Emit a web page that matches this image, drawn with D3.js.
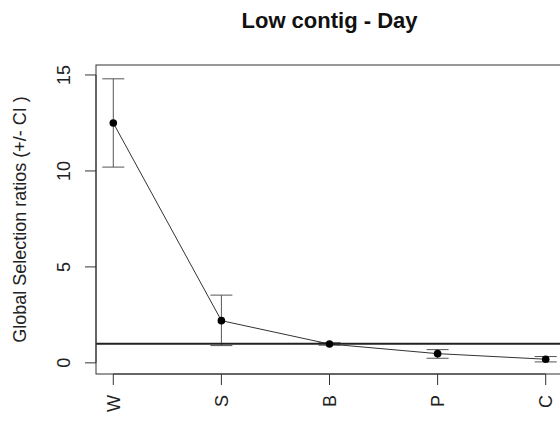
<!DOCTYPE html>
<html>
<head>
<meta charset="utf-8">
<script src="https://cdn.jsdelivr.net/npm/d3@7"></script>
<style>
  html, body { margin: 0; padding: 0; background: #fff; }
  svg { display: block; font-family: "Liberation Sans", Arial, sans-serif; }
</style>
</head>
<body>
<div id="chart"></div>
<script>
// habitat classes along the x axis
var categories = ['W', 'S', 'B', 'P', 'C'];
// global selection ratios and their confidence limits
var ratios = [12.5, 2.2, 0.98, 0.48, 0.19];
var ciLower = [10.2, 0.9, 0.92, 0.24, 0.05];
var ciUpper = [14.8, 3.53, 1.05, 0.69, 0.33];
var yTicks = [0, 5, 10, 15];
var refLine = 1;

var width = 560, height = 421;
var margin = { top: 65, right: -3, bottom: 47, left: 96 };
var iw = width - margin.left - margin.right;
var ih = height - margin.top - margin.bottom;

var svg = d3.select('#chart').append('svg').attr('width', width).attr('height', height);

// R-style 4% padding around the data ranges
var x = d3.scaleLinear().domain([0.84, 5.16]).range([margin.left, margin.left + iw]);
var y = d3.scaleLinear().domain([-0.58, 15.52]).range([margin.top + ih, margin.top]);

var pts = categories.map(function (c, i) {
  return { cat: c, i: i + 1, v: ratios[i], lo: ciLower[i], hi: ciUpper[i] };
});

// error bars
var eb = svg.append('g').attr('stroke', '#555').attr('stroke-width', 1).attr('fill', 'none');
pts.forEach(function (d) {
  eb.append('line').attr('x1', x(d.i)).attr('x2', x(d.i)).attr('y1', y(d.lo)).attr('y2', y(d.hi));
  eb.append('line').attr('x1', x(d.i) - 11).attr('x2', x(d.i) + 11).attr('y1', y(d.lo)).attr('y2', y(d.lo));
  eb.append('line').attr('x1', x(d.i) - 11).attr('x2', x(d.i) + 11).attr('y1', y(d.hi)).attr('y2', y(d.hi));
});

// connecting line
var line = d3.line().x(function (d) { return x(d.i); }).y(function (d) { return y(d.v); });
svg.append('path').datum(pts).attr('d', line)
  .attr('fill', 'none').attr('stroke', '#333').attr('stroke-width', 1);

// reference line at 1
svg.append('line')
  .attr('x1', margin.left).attr('x2', margin.left + iw)
  .attr('y1', y(refLine)).attr('y2', y(refLine))
  .attr('stroke', '#222').attr('stroke-width', 2);

// points
svg.selectAll('circle.pt').data(pts).enter().append('circle')
  .attr('class', 'pt')
  .attr('cx', function (d) { return x(d.i); })
  .attr('cy', function (d) { return y(d.v); })
  .attr('r', 3.8).attr('fill', '#000');

// plot box
svg.append('rect')
  .attr('x', margin.left).attr('y', margin.top).attr('width', iw).attr('height', ih)
  .attr('fill', 'none').attr('stroke', '#333').attr('stroke-width', 1);

// y axis
var yAxis = svg.append('g').attr('transform', 'translate(' + (margin.left - 11) + ',0)');
yAxis.append('line').attr('x1', 11).attr('x2', 11)
  .attr('y1', y(yTicks[0])).attr('y2', y(yTicks[yTicks.length - 1]))
  .attr('stroke', '#333');
yTicks.forEach(function (t) {
  yAxis.append('line').attr('x1', 0).attr('x2', 11).attr('y1', y(t)).attr('y2', y(t)).attr('stroke', '#333');
  yAxis.append('text')
    .attr('transform', 'translate(-15,' + y(t) + ') rotate(-90)')
    .attr('text-anchor', 'middle').attr('font-size', 18).attr('fill', '#222')
    .text(t);
});

// x axis
var xAxisY = margin.top + ih;
var xAxis = svg.append('g');
xAxis.append('line').attr('x1', x(1)).attr('x2', x(categories.length))
  .attr('y1', xAxisY).attr('y2', xAxisY).attr('stroke', '#333');
pts.forEach(function (d) {
  xAxis.append('line').attr('x1', x(d.i)).attr('x2', x(d.i))
    .attr('y1', xAxisY).attr('y2', xAxisY + 11).attr('stroke', '#333');
  xAxis.append('text')
    .attr('transform', 'translate(' + (x(d.i) + 6.5) + ',' + (xAxisY + 21) + ') rotate(-90)')
    .attr('text-anchor', 'end').attr('font-size', 18).attr('fill', '#222')
    .text(d.cat);
});

// axis label
svg.append('text')
  .attr('transform', 'translate(26,' + (margin.top + ih / 2) + ') rotate(-90)')
  .attr('text-anchor', 'middle').attr('font-size', 18).attr('fill', '#222')
  .text('Global Selection ratios (+/- CI )');

// title
svg.append('text')
  .attr('x', margin.left + iw / 2).attr('y', 28)
  .attr('text-anchor', 'middle').attr('font-size', 22).attr('font-weight', 'bold').attr('fill', '#111')
  .text('Low contig - Day');
</script>
</body>
</html>
